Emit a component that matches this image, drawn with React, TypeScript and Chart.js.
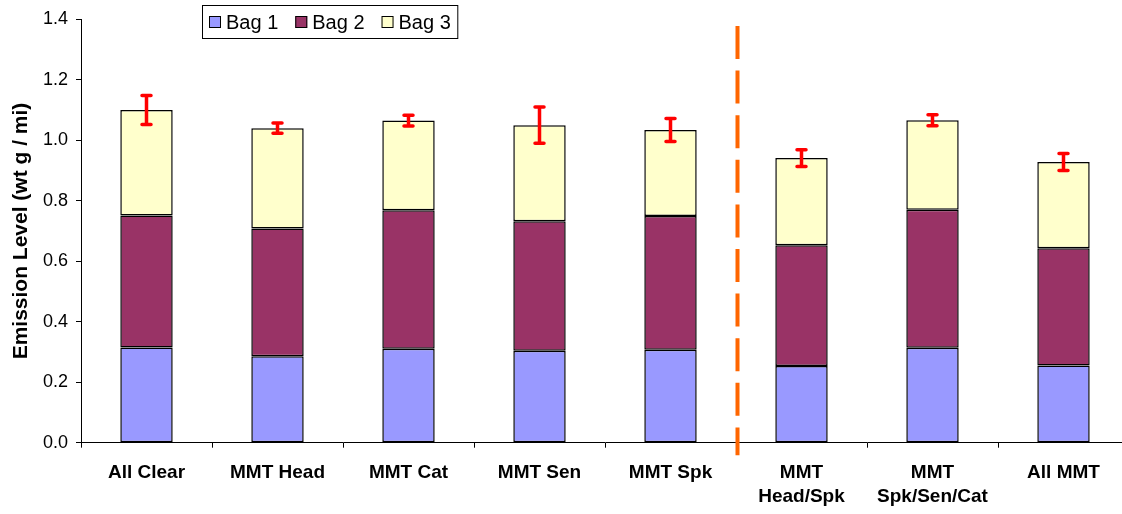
import { useEffect, useRef } from 'react';
import { Chart, registerables } from 'chart.js';

Chart.register(...registerables);

const categories: (string | string[])[] = [
  'All Clear',
  'MMT Head',
  'MMT Cat',
  'MMT Sen',
  'MMT Spk',
  ['MMT', 'Head/Spk'],
  ['MMT', 'Spk/Sen/Cat'],
  'All MMT',
];
const bag1 = [0.315, 0.286, 0.311, 0.304, 0.307, 0.254, 0.314, 0.255];
const bag2 = [0.436, 0.422, 0.458, 0.428, 0.443, 0.399, 0.456, 0.388];
const bag3 = [0.349, 0.332, 0.296, 0.318, 0.284, 0.288, 0.296, 0.285];
const errors = [0.048, 0.017, 0.018, 0.06, 0.038, 0.028, 0.018, 0.028];
const yMin = 0;
const yMax = 1.4;
const yStep = 0.2;
const seriesNames = ['Bag 1', 'Bag 2', 'Bag 3'];
const seriesColors = ['#9999FF', '#993366', '#FFFFCC'];

const FONT = "'Liberation Sans', Arial, Helvetica, sans-serif";

const overlayPlugin = {
  id: 'overlay',
  afterDatasetsDraw(chart: any) {
    const ctx = chart.ctx as CanvasRenderingContext2D;
    const xs = chart.scales.x;
    const ys = chart.scales.y;
    const area = chart.chartArea;

    // error bars
    ctx.save();
    ctx.strokeStyle = '#FF0000';
    ctx.lineWidth = 3.5;
    ctx.lineCap = 'round';
    for (let i = 0; i < categories.length; i++) {
      const total = bag1[i] + bag2[i] + bag3[i];
      const x = xs.getPixelForValue(i);
      const yt = ys.getPixelForValue(total + errors[i]);
      const yb = ys.getPixelForValue(total - errors[i]);
      ctx.beginPath();
      ctx.moveTo(x, yt);
      ctx.lineTo(x, yb);
      ctx.moveTo(x - 4.5, yt);
      ctx.lineTo(x + 4.5, yt);
      ctx.moveTo(x - 4.5, yb);
      ctx.lineTo(x + 4.5, yb);
      ctx.stroke();
    }
    ctx.restore();

    // dashed separator between group 5 and 6
    const xd = (xs.getPixelForValue(4) + xs.getPixelForValue(5)) / 2 + 1.5;
    ctx.save();
    ctx.strokeStyle = '#FF6600';
    ctx.lineWidth = 4;
    ctx.setLineDash([33, 11.6]);
    ctx.beginPath();
    ctx.moveTo(xd, area.top + 6.7);
    ctx.lineTo(xd, area.bottom + 12.5);
    ctx.stroke();
    ctx.restore();

    // legend
    ctx.save();
    ctx.font = `20px ${FONT}`;
    ctx.textBaseline = 'middle';
    const boxLeft = 202.5;
    const boxTop = 5.5;
    const boxH = 33;
    const cy = boxTop + boxH / 2;
    let x = boxLeft + 6.5;
    const positions: { sx: number; tx: number }[] = [];
    for (let i = 0; i < seriesNames.length; i++) {
      const w = ctx.measureText(seriesNames[i]).width;
      positions.push({ sx: x, tx: x + 17 });
      x += 17 + w + (i < seriesNames.length - 1 ? 17 : 7);
    }
    const boxW = x - boxLeft;
    ctx.fillStyle = '#FFFFFF';
    ctx.fillRect(boxLeft, boxTop, boxW, boxH);
    ctx.strokeStyle = '#000';
    ctx.lineWidth = 1;
    ctx.strokeRect(boxLeft, boxTop, boxW, boxH);
    for (let i = 0; i < seriesNames.length; i++) {
      const p = positions[i];
      ctx.fillStyle = seriesColors[i];
      ctx.fillRect(p.sx, cy - 6, 12, 12);
      ctx.strokeStyle = '#000';
      ctx.strokeRect(p.sx + 0.5, cy - 5.5, 11, 11);
      ctx.fillStyle = '#000';
      ctx.fillText(seriesNames[i], p.tx, cy + 1);
    }
    ctx.restore();
  },
};

export default function App() {
  const ref = useRef<HTMLCanvasElement | null>(null);

  useEffect(() => {
    if (!ref.current) return;
    Chart.defaults.color = '#000';
    const chart = new Chart(ref.current, {
      type: 'bar',
      data: {
        labels: categories,
        datasets: [bag1, bag2, bag3].map((d, i) => ({
          label: seriesNames[i],
          data: d,
          backgroundColor: seriesColors[i],
          borderColor: '#000',
          borderWidth: 1.5,
          borderSkipped: false,
          barPercentage: 0.4,
          categoryPercentage: 1.0,
        })),
      },
      options: {
        responsive: false,
        animation: false,
        layout: { padding: { top: 19.3, right: 11, bottom: 0, left: 0 } },
        plugins: {
          legend: { display: false },
          tooltip: { enabled: false },
        },
        scales: {
          x: {
            stacked: true,
            offset: true,
            grid: {
              display: true,
              drawOnChartArea: false,
              drawTicks: true,
              tickLength: 5,
              color: '#000',
              offset: true,
            },
            border: { display: true, color: '#000', width: 1 },
            ticks: {
              color: '#000',
              padding: 13,
              maxRotation: 0,
              autoSkip: false,
              font: { family: FONT, size: 19, weight: 'bold', lineHeight: 1.25 },
            },
            afterFit: (s: any) => {
              s.height = 71.3;
            },
          },
          y: {
            stacked: true,
            min: yMin,
            max: yMax,
            grid: {
              display: true,
              drawOnChartArea: false,
              drawTicks: true,
              tickLength: 5,
              color: '#000',
            },
            border: { display: true, color: '#000', width: 1 },
            ticks: {
              stepSize: yStep,
              color: '#000',
              padding: 8,
              font: { family: FONT, size: 18 },
              callback: (v: any) => Number(v).toFixed(1),
            },
            title: {
              display: true,
              text: 'Emission Level (wt g / mi)',
              color: '#000',
              font: { family: FONT, size: 21, weight: 'bold', lineHeight: 1.2 },
              padding: { top: 9, bottom: 0 },
            },
            afterFit: (s: any) => {
              s.width = 81;
            },
          },
        },
      },
      plugins: [overlayPlugin],
    });
    return () => chart.destroy();
  }, []);

  return (
    <div style={{ position: 'fixed', left: 0, top: 0, width: 1140, height: 514, background: '#fff' }}>
      <canvas ref={ref} width={1140} height={514} style={{ display: 'block' }} />
    </div>
  );
}
